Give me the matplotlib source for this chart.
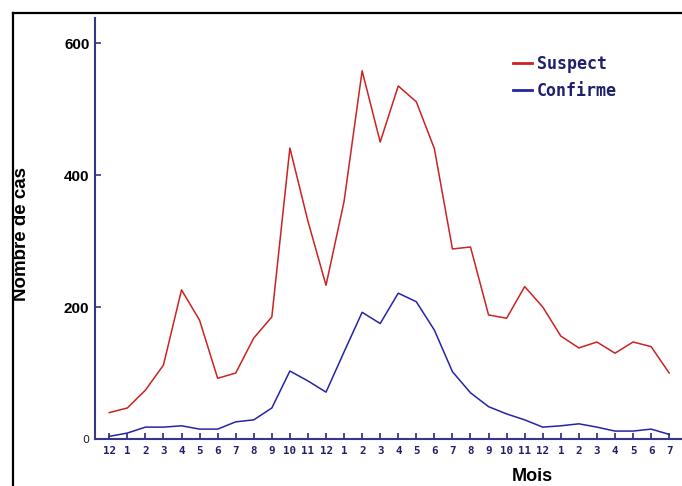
import matplotlib
matplotlib.use("Agg")
import matplotlib.pyplot as plt
from matplotlib.lines import Line2D
import numpy as np

# months from december to july (32 months)
months = ["12", "1", "2", "3", "4", "5", "6", "7", "8", "9", "10", "11", "12",
          "1", "2", "3", "4", "5", "6", "7", "8", "9", "10", "11", "12",
          "1", "2", "3", "4", "5", "6", "7"]

suspect = [40, 47, 74, 112, 226, 180, 92, 100, 153, 185, 441, 330, 233,
           360, 558, 450, 535, 511, 440, 288, 291, 188, 183, 231, 200,
           156, 138, 147, 130, 147, 140, 100]

confirme = [4, 9, 18, 18, 20, 15, 15, 26, 29, 47, 103, 88, 71,
            132, 192, 175, 221, 208, 165, 102, 70, 49, 38, 29, 18,
            20, 23, 18, 12, 12, 15, 7]

y_ticks = [0, 200, 400, 600]

red = "#cc2222"
blue = "#2424a6"
axis_col = "#36368a"
navy = "#20206a"

W, H = 682, 486
fig = plt.figure(figsize=(W / 100, H / 100), dpi=100)
fig.patch.set_facecolor("white")

ax = fig.add_axes([95 / W, 1 - 439 / H, (W - 95) / W, (439 - 18) / H])
x = np.arange(len(months))

ax.plot(x, suspect, color=red, lw=1.1, label="Suspect")
ax.plot(x, confirme, color=blue, lw=1.1, label="Confirme")

ax.set_xlim(-0.79, 31.71)
ax.set_ylim(0, 638)

for s in ["top", "right"]:
    ax.spines[s].set_visible(False)
for s in ["left", "bottom"]:
    ax.spines[s].set_color(axis_col)
    ax.spines[s].set_linewidth(1.5)

ax.set_xticks(x)
ax.set_xticklabels(months, family="DejaVu Sans Mono", fontweight="bold",
                   fontsize=7.8, color=navy)
ax.tick_params(axis="x", direction="in", length=4, width=1.3,
               color=axis_col, pad=5)

ax.set_yticks(y_ticks)
ylabels = ax.set_yticklabels([str(v) for v in y_ticks])
for i, t in enumerate(ylabels):
    if y_ticks[i] == 0:
        t.set_fontsize(8)
        t.set_color("#222222")
    else:
        t.set_fontsize(11)
        t.set_fontweight("bold")
        t.set_family("Liberation Sans")
        t.set_color("black")
ax.tick_params(axis="y", direction="in", length=4, width=1.2,
               color=axis_col, pad=4)

ax.set_ylabel("Nombre de cas", fontsize=13.5, fontweight="bold",
              family="Liberation Sans")
ax.yaxis.set_label_coords((30 - 95) / (W - 95), (439 - 234) / (439 - 18))

ax.set_xlabel("Mois", fontsize=13, fontweight="bold", family="Liberation Sans")
ax.xaxis.set_label_coords((532 - 95) / (W - 95), (439 - 468) / (439 - 18))

leg = ax.legend(loc="upper left", bbox_to_anchor=(513 / W, 1 - 55 / H),
                bbox_transform=fig.transFigure, frameon=False,
                borderpad=0, borderaxespad=0, handlelength=1.15,
                handletextpad=0.3, labelspacing=0.55,
                prop={"family": "DejaVu Sans Mono", "weight": "bold", "size": 12})
for t in leg.get_texts():
    t.set_color(navy)
for h in leg.get_lines():
    h.set_linewidth(2)

# black frame on top and left
fig.add_artist(Line2D([13 / W, 1], [1 - 13 / H, 1 - 13 / H], color="black",
                      lw=1.6, transform=fig.transFigure))
fig.add_artist(Line2D([13 / W, 13 / W], [0, 1 - 13 / H], color="black",
                      lw=1.6, transform=fig.transFigure))

plt.savefig("out.png", dpi=100)
